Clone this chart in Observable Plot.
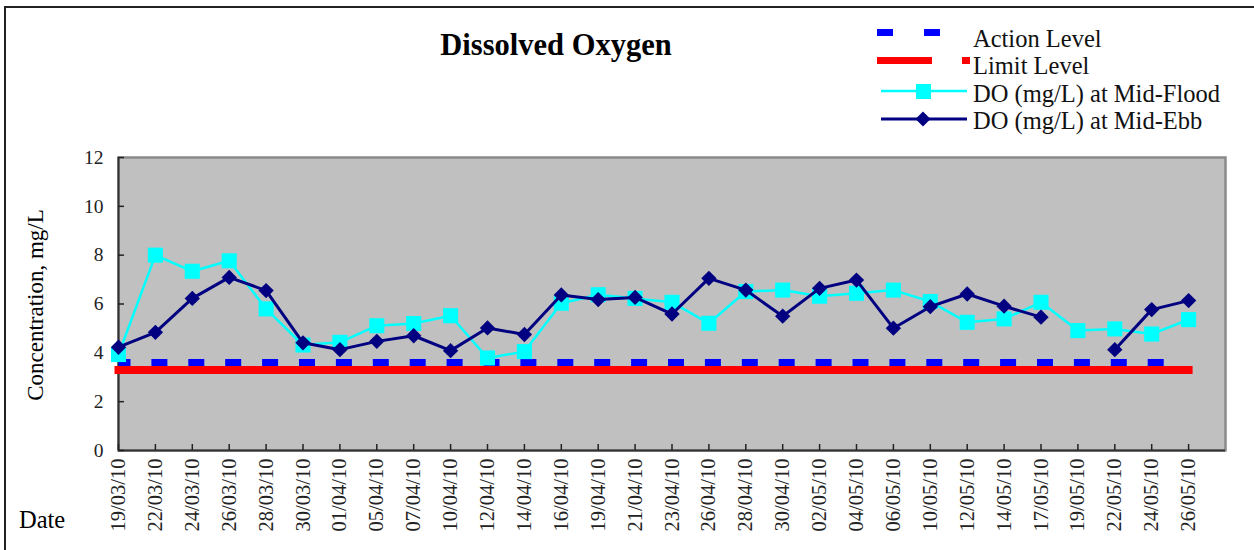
<!DOCTYPE html>
<html>
<head>
<meta charset="utf-8">
<script src="https://cdn.jsdelivr.net/npm/d3@7"></script>
<script src="https://cdn.jsdelivr.net/npm/@observablehq/plot@0.6"></script>
<style>
  html, body { margin: 0; padding: 0; background: #fff; }
  #wrap { position: relative; width: 1254px; height: 550px; overflow: hidden; font-family: "Liberation Serif", "Times New Roman", serif; }
  #chart { position: absolute; left: 0; top: 0; }
  #anno { position: absolute; left: 0; top: 0; pointer-events: none; }
</style>
</head>
<body>
<div id="wrap">
  <div id="chart"></div>
  <svg id="anno" width="1254" height="550" xmlns="http://www.w3.org/2000/svg"></svg>
</div>
<script>
// ---- data ----
const dates = ["19/03/10","22/03/10","24/03/10","26/03/10","28/03/10","30/03/10","01/04/10","05/04/10","07/04/10","10/04/10",
               "12/04/10","14/04/10","16/04/10","19/04/10","21/04/10","23/04/10","26/04/10","28/04/10","30/04/10","02/05/10",
               "04/05/10","06/05/10","10/05/10","12/05/10","14/05/10","17/05/10","19/05/10","22/05/10","24/05/10","26/05/10"];
const floodDO = [3.93, 8.0, 7.34, 7.77, 5.80, 4.32, 4.43, 5.11, 5.20, 5.52,
                 3.79, 4.05, 6.03, 6.38, 6.23, 6.07, 5.21, 6.51, 6.57, 6.32,
                 6.44, 6.57, 6.10, 5.25, 5.39, 6.07, 4.91, 4.98, 4.77, 5.36];
const ebbDO   = [4.23, 4.84, 6.23, 7.09, 6.55, 4.41, 4.13, 4.47, 4.70, 4.09,
                 5.02, 4.75, 6.37, 6.18, 6.27, 5.59, 7.05, 6.57, 5.50, 6.64,
                 6.98, 5.01, 5.89, 6.41, 5.91, 5.46, null, 4.13, 5.77, 6.14];
const actionLevel = dates.map(() => 3.6);
const limitLevel  = dates.map(() => 3.3);
const yTicks = [0, 2, 4, 6, 8, 10, 12];
const legendLabels = ["Action Level", "Limit Level", "DO (mg/L) at Mid-Flood", "DO (mg/L) at Mid-Ebb"];
const titleText = "Dissolved Oxygen";
const yLabelText = "Concentration, mg/L";
const xLabelText = "Date";

const rows = dates.map((d, i) => ({date: d, flood: floodDO[i], ebb: ebbDO[i], action: actionLevel[i], limit: limitLevel[i]}));

// ---- layout ----
const W = 1254, H = 550, mL = 118, mR = 29, mT = 157, mB = 100;
const step = (W - mL - mR) / (dates.length - 1 + 2 * 0.5);
const dash = [];
for (let k = 0; k < dates.length - 1; k++) dash.push(16, step - 16);
dash[dash.length - 1] = 3000;

const FONT = "'Liberation Serif', 'Times New Roman', serif";

const chart = Plot.plot({
  width: W, height: H,
  marginLeft: mL, marginRight: mR, marginTop: mT, marginBottom: mB,
  style: {background: "transparent", fontFamily: FONT, overflow: "visible"},
  x: {type: "point", domain: dates, padding: 0.5, align: 0, round: false, label: null},
  y: {domain: [0, 12], label: null},
  marks: [
    Plot.frame({fill: "#C0C0C0", stroke: "#8a8a8a", strokeWidth: 2.5}),
    Plot.ruleX([dates[0]], {stroke: "#333", strokeWidth: 2}),
    Plot.ruleY([0], {stroke: "#333", strokeWidth: 2}),
    Plot.axisY({ticks: yTicks, tickSize: -6, tickPadding: 21, fontSize: 19.5, color: "#222", label: null, strokeWidth: 1.5}),
    Plot.axisX({tickSize: -6, tickPadding: 14, tickRotate: -90, fontSize: 20.5, color: "#222", label: null, strokeWidth: 1.5}),
    Plot.line(rows, {x: "date", y: "action", stroke: "#0000FF", strokeWidth: 7, strokeLinecap: "butt", strokeLinejoin: "miter", strokeDasharray: dash.join(" "), strokeDashoffset: 4}),
    Plot.line(rows, {x: "date", y: "limit", stroke: "#FF0000", strokeWidth: 8, strokeLinecap: "square"}),
    Plot.line(rows, {x: "date", y: "flood", stroke: "#00FFFF", strokeWidth: 2.5}),
    Plot.dot(rows, {x: "date", y: "flood", symbol: "square", r: 8.5, fill: "#00FFFF"}),
    Plot.line(rows, {x: "date", y: "ebb", stroke: "#000080", strokeWidth: 3}),
    Plot.dot(rows, {x: "date", y: "ebb", symbol: "diamond2", r: 6.9, fill: "#000080"})
  ]
});
document.getElementById("chart").appendChild(chart);

// ---- annotations: border, title, axis labels, legend ----
const anno = d3.select("#anno");
anno.append("line").attr("x1", 5).attr("y1", 7).attr("x2", 5).attr("y2", 550).attr("stroke", "#222").attr("stroke-width", 2);
anno.append("line").attr("x1", 4).attr("y1", 7).attr("x2", 1254).attr("y2", 7).attr("stroke", "#222").attr("stroke-width", 2);

anno.append("text").attr("x", 556).attr("y", 55).attr("text-anchor", "middle")
  .attr("font-family", FONT).attr("font-weight", "bold").attr("font-size", 30.5).attr("fill", "#000").text(titleText);

anno.append("text").attr("transform", "translate(43,305) rotate(-90)").attr("text-anchor", "middle")
  .attr("font-family", FONT).attr("font-size", 23).attr("fill", "#000").text(yLabelText);

anno.append("text").attr("x", 19).attr("y", 528)
  .attr("font-family", FONT).attr("font-size", 24.5).attr("fill", "#000").text(xLabelText);

const lg = anno.append("g").attr("transform", "translate(860,20)");
// Action Level
lg.append("rect").attr("x", 17).attr("y", 9).attr("width", 16).attr("height", 7).attr("fill", "#0000FF");
lg.append("rect").attr("x", 64).attr("y", 9).attr("width", 16).attr("height", 7).attr("fill", "#0000FF");
// Limit Level
lg.append("rect").attr("x", 17).attr("y", 37).attr("width", 55).attr("height", 7).attr("fill", "#FF0000");
lg.append("rect").attr("x", 102).attr("y", 37).attr("width", 8).attr("height", 7).attr("fill", "#FF0000");
// Flood
lg.append("line").attr("x1", 21).attr("x2", 107).attr("y1", 71).attr("y2", 71).attr("stroke", "#00FFFF").attr("stroke-width", 2.5);
lg.append("rect").attr("x", 56).attr("y", 64).attr("width", 15).attr("height", 15).attr("fill", "#00FFFF");
// Ebb
lg.append("line").attr("x1", 21).attr("x2", 107).attr("y1", 99).attr("y2", 99).attr("stroke", "#000080").attr("stroke-width", 3);
lg.append("path").attr("d", "M63,91.5L70.5,99L63,106.5L55.5,99Z").attr("fill", "#000080");
const baselines = [27, 54, 82, 109];
legendLabels.forEach((t, i) => {
  lg.append("text").attr("x", 113).attr("y", baselines[i]).attr("font-family", FONT)
    .attr("font-size", 24.5).attr("fill", "#111").text(t);
});
</script>
</body>
</html>
